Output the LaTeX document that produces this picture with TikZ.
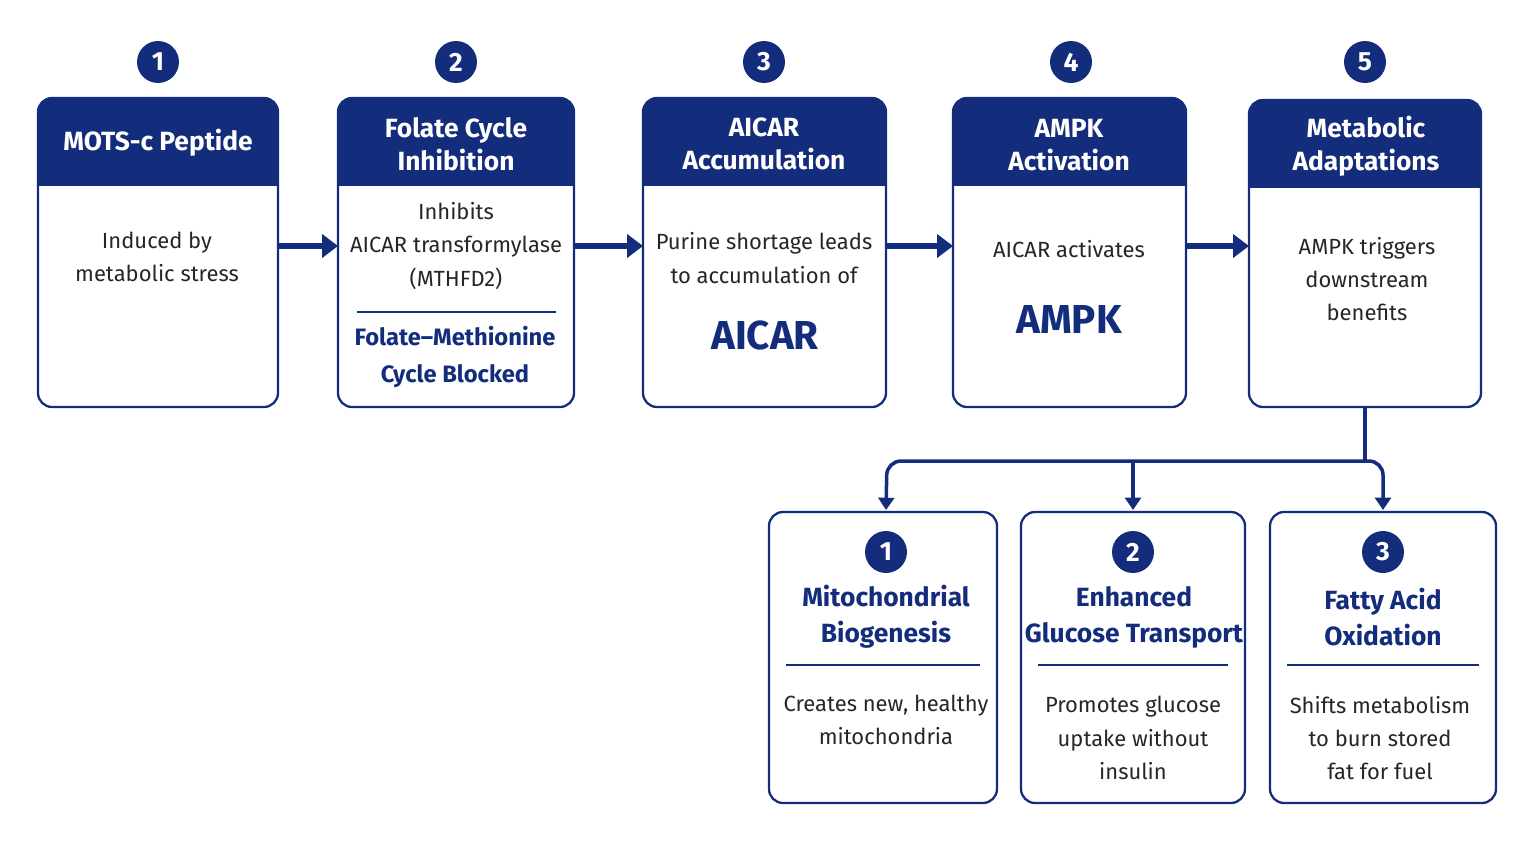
\documentclass[tikz,border=0pt]{standalone}
\usepackage{fontspec}
\setmainfont{Fira Sans}
\usetikzlibrary{arrows.meta}
\definecolor{navy}{HTML}{132C7C}
\begin{document}
\begin{tikzpicture}[x=0.02cm,y=-0.02cm,
  box/.style={draw=navy,line width=1.3pt,rounded corners=8pt},
  hdr/.style={fill=navy,rounded corners=8pt},
  num/.style={circle,fill=navy,text=white,minimum size=0.84cm,inner sep=0pt,font=\bfseries\fontsize{15}{15}\selectfont},
  htxt/.style={text=white,align=center,font=\fontsize{15}{19}\selectfont\bfseries},
  btxt/.style={align=center,text=black!85,font=\fontsize{12.5}{19}\selectfont},
  big/.style={text=navy,font=\bfseries\fontsize{23}{26}\selectfont},
  stxt/.style={text=navy,align=center,font=\fontsize{13.5}{20.5}\selectfont\bfseries},
  arr/.style={-{Triangle[length=9pt,width=13pt]},navy,line width=3pt},
  sarr/.style={-{Triangle[length=7pt,width=9pt]},navy,line width=2pt}]
\useasboundingbox (0,0) rectangle (1536,846);
% top boxes
\foreach \n/\xa/\xb/\ya/\yh in {1/38/278/98/186,2/338/574/98/186,3/643/886/98/186,4/953/1186/98/186,5/1249/1481/100/188}{
  \begin{scope}
  \clip[rounded corners=8pt] (\xa,\ya) rectangle (\xb,407);
  \fill[navy] (\xa,\ya) rectangle (\xb,\yh);
  \end{scope}
  \draw[box] (\xa,\ya) rectangle (\xb,407);
  \coordinate (b\n w) at (\xa,246);
  \coordinate (b\n e) at (\xb,246);
}
\node[num] (n1) at (158,62) {1};
\node[num] (n2) at (456,62) {2};
\node[num] (n3) at (764,62) {3};
\node[num] (n4) at (1071,62) {4};
\node[num] (n5) at (1365,62) {5};
\node[htxt] (h1) at (158,143) {MOTS-c Peptide};
\node[htxt] (h2) at (456,144) {Folate Cycle\\Inhibition};
\node[htxt] (h3) at (764,144) {AICAR\\Accumulation};
\node[htxt] (h4) at (1069,145) {AMPK\\Activation};
\node[htxt] (h5) at (1366,146) {Metabolic\\Adaptations};
\node[btxt] (t1) at (157,257) {Induced by\\metabolic stress};
\node[btxt] (t2) at (456,246) {Inhibits\\AICAR transformylase\\(MTHFD2)};
\draw[navy,line width=1.3pt] (357,312) -- (556,312);
\node[stxt] (s2) at (455,357) {Folate–Methionine\\Cycle Blocked};
\node[btxt] (t3) at (764,258) {Purine shortage leads\\to accumulation of};
\node[big] (a3) at (765,335) {AICAR};
\node[btxt] (t4) at (1069,249) {AICAR activates};
\node[big] (a4) at (1069,319) {AMPK};
\node[btxt] (t5) at (1367,279) {AMPK triggers\\downstream\\benefits};
\draw[arr] (b1e) -- (b2w);
\draw[arr] (b2e) -- (b3w);
\draw[arr] (b3e) -- (b4w);
\draw[arr] (b4e) -- (b5w);
% bottom boxes
\foreach \n/\xa/\xb/\cx in {1/769/997/886,2/1021/1245/1133,3/1270/1496/1383}{
  \draw[box] (\xa,512) rectangle (\xb,803);
  \draw[navy,line width=1.3pt] (\xa+17,665) -- (\xb-17,665);
  \node[num] (m\n) at (\cx,552) {\n};
  \coordinate (top\n) at (\cx,510);
}
\node[stxt,font=\fontsize{15}{20.5}\selectfont\bfseries] at (886,617) {Mitochondrial\\Biogenesis};
\node[stxt,font=\fontsize{15}{20.5}\selectfont\bfseries] at (1134,617) {Enhanced\\Glucose Transport};
\node[stxt,font=\fontsize{15}{20.5}\selectfont\bfseries] at (1383,617) {Fatty Acid\\Oxidation};
\node[btxt] at (886,720) {Creates new, healthy\\mitochondria};
\node[btxt] at (1133,738) {Promotes glucose\\uptake without\\insulin};
\node[btxt] at (1380,738) {Shifts metabolism\\to burn stored\\fat for fuel};
\coordinate (b5s) at (1365,407);
\coordinate (j) at (1365,461);
\draw[navy,line width=2pt] (b5s) -- (j);
\draw[sarr,rounded corners=8pt] (j) -- (887,461) -- (top1);
\draw[sarr,rounded corners=8pt] (j) -- (1383,461) -- (top3);
\draw[sarr] (1133,461) -- (top2);
\end{tikzpicture}
\end{document}
